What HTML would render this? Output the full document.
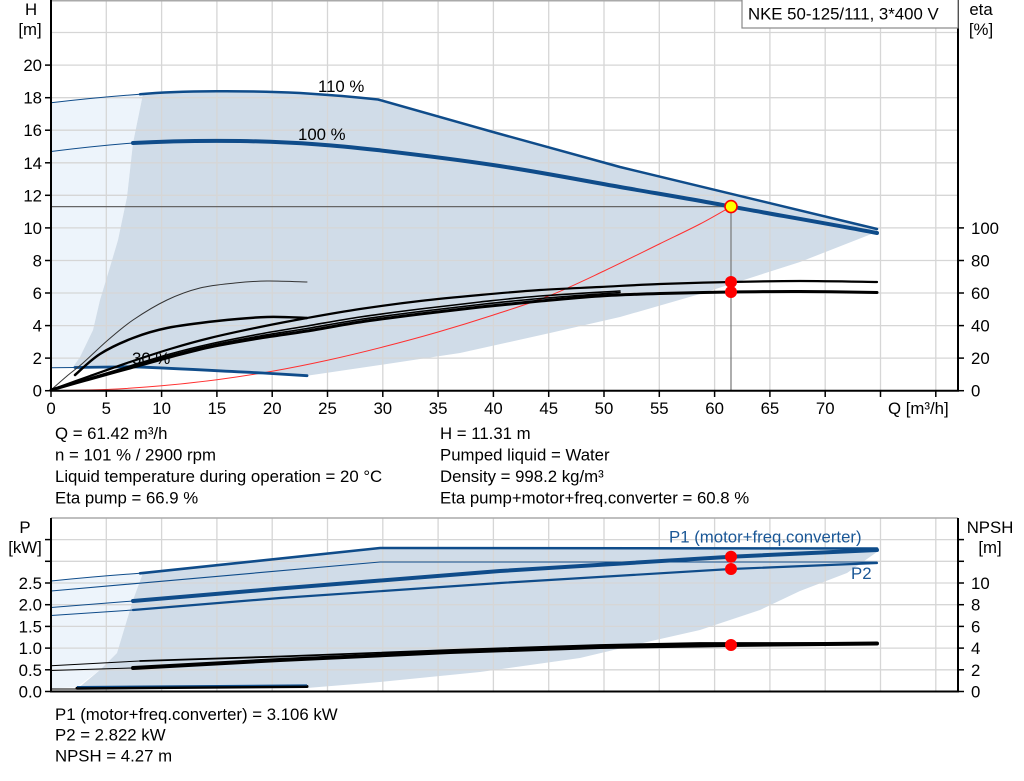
<!DOCTYPE html>
<html><head><meta charset="utf-8"><style>
html,body{margin:0;padding:0;background:#fff;}
svg{display:block;font-family:"Liberation Sans",Arial,sans-serif;}
</style></head><body>
<svg width="1024" height="781" viewBox="0 0 1024 781" xmlns="http://www.w3.org/2000/svg">
<rect width="1024" height="781" fill="#fff"/>

<!-- ===== TOP CHART ===== -->
<path d="M51,102.7 Q100,97 143,94 L133,143 L127,197 L118,240 L110,267 L100,300 L93,330 L80,357 L73,367 L51,367.7 Z" fill="#edf4fb"/>
<path d="M143,94 C180,90.5 250,90.5 300,93 C340,95.5 360,97.5 378,99.5 L493,132 L620,167 L877,229 L877,233 L874,233 L800,262 L700,294 L620,317 L550,333 L460,353 L380,365 L307,375.7 L263,373 L200,370 L130,366.7 L73,367 L80,357 L93,330 L100,300 L110,267 L118,240 L127,197 L133,143 Z" fill="#d0dce8"/>

<g stroke="#d6d6d6" stroke-width="1.3">
<line x1="106.3" y1="0" x2="106.3" y2="390"/><line x1="161.6" y1="0" x2="161.6" y2="390"/><line x1="216.9" y1="0" x2="216.9" y2="390"/><line x1="272.2" y1="0" x2="272.2" y2="390"/><line x1="327.5" y1="0" x2="327.5" y2="390"/><line x1="382.8" y1="0" x2="382.8" y2="390"/><line x1="438.1" y1="0" x2="438.1" y2="390"/><line x1="493.4" y1="0" x2="493.4" y2="390"/><line x1="548.7" y1="0" x2="548.7" y2="390"/><line x1="604" y1="0" x2="604" y2="390"/><line x1="659.3" y1="0" x2="659.3" y2="390"/><line x1="714.6" y1="0" x2="714.6" y2="390"/><line x1="769.9" y1="0" x2="769.9" y2="390"/><line x1="825.2" y1="0" x2="825.2" y2="390"/><line x1="880.5" y1="0" x2="880.5" y2="390"/><line x1="935.8" y1="0" x2="935.8" y2="390"/>
<line x1="51" y1="358.1" x2="958" y2="358.1"/><line x1="51" y1="325.6" x2="958" y2="325.6"/><line x1="51" y1="293" x2="958" y2="293"/><line x1="51" y1="260.5" x2="958" y2="260.5"/><line x1="51" y1="227.9" x2="958" y2="227.9"/><line x1="51" y1="195.3" x2="958" y2="195.3"/><line x1="51" y1="162.8" x2="958" y2="162.8"/><line x1="51" y1="130.2" x2="958" y2="130.2"/><line x1="51" y1="97.7" x2="958" y2="97.7"/><line x1="51" y1="65.1" x2="958" y2="65.1"/><line x1="51" y1="32.5" x2="958" y2="32.5"/>
</g>
<line x1="51" y1="0.8" x2="958" y2="0.8" stroke="#aaa" stroke-width="1.5"/>

<!-- system curve -->
<path id="sys" d="M51,390.7 L106.3,389.5 L161.6,385.8 L216.9,379.7 L272.2,371.2 L327.5,360.2 L382.8,347 L438.1,332 L493.4,315 L548.7,296 L604,271 L659.3,244 L700,224 L731,206.6" fill="none" stroke="#ff3030" stroke-width="1"/>

<line x1="51" y1="206.6" x2="731" y2="206.6" stroke="#666" stroke-width="1.2"/>
<line x1="731" y1="206.6" x2="731" y2="390" stroke="#777" stroke-width="1.2"/>

<!-- H curves -->
<g fill="none" stroke="#0f4c8a" stroke-linecap="round" stroke-linejoin="round">
<path d="M51,102.7 Q100,97 143,94" stroke-width="1"/>
<path d="M140,94.3 C180,90.5 250,90.5 300,93 C340,95.5 360,97.5 378,99.5 L493,132 L620,167 L877,229" stroke-width="2.5"/>
<path d="M51,151.5 Q95,146 133,143" stroke-width="1"/>
<path d="M133,143 C170,141 200,140.5 240,141 C300,142 340,146 377,150 C420,155 460,160 493,165 C540,172 580,180 620,187 C660,194 700,200.5 731,206.6 C780,215.5 830,224 877,233" stroke-width="4"/>
<path d="M51,367.7 L75,367.5" stroke-width="1"/>
<path d="M75,367.5 L130,366.7 C170,368 200,370 263,373 L307,375.7" stroke-width="2.8"/>
</g>

<!-- eta curves -->
<g fill="none" stroke="#000" stroke-linecap="round" stroke-linejoin="round">
<path id="eA" d="M51,390 L67,376 L83,363 L108,340 L133,320 L167,300 L200,288 L235,283 L267,281 L307,282" stroke="#333" stroke-width="1"/>
<path id="eB" d="M75,375 L100,354 L133,338 L167,328 L217,321 L267,317 L307,318" stroke-width="2.5"/>
<path id="eC" d="M51,390 L90,376 L130,362 L170,349 L210,338 L260,327 L307,318 L360,309 L420,301 L480,295 L540,290 L600,287 L660,284 L731,282 L800,281 L877,282" stroke-width="2.2"/>
<path id="eD" d="M51,390 L90,378 L130,366 L170,354 L210,344 L260,334 L307,326 L360,317 L420,309 L480,302 L540,296 L620,291" stroke-width="1.6"/>
<path id="eE" d="M51,390 L90,378.5 L130,367 L170,355.5 L210,345.5 L260,336 L307,328.5 L360,319.5 L420,311.5 L480,304.5 L540,298.5 L620,292.5" stroke-width="1.6"/>
<path id="eF" d="M51,390 L90,379 L130,368 L170,357 L210,347 L260,338 L307,331 L360,322 L420,314 L480,307 L540,301 L600,296 L660,293.5 L731,292 L800,291.5 L877,292.5" stroke-width="3"/>
</g>

<circle cx="731" cy="206.6" r="6" fill="#ffff00" stroke="#ff0000" stroke-width="1.6"/>
<circle cx="731" cy="282" r="6" fill="#ff0000"/>
<circle cx="731" cy="292" r="6" fill="#ff0000"/>

<g font-size="16.8" fill="#000">
<text x="318" y="92">110 %</text>
<text x="298" y="140">100 %</text>
<text x="132" y="364">30 %</text>
</g>

<g stroke="#000" stroke-width="2">
<line x1="51" y1="0" x2="51" y2="391.5"/>
<line x1="958" y1="0" x2="958" y2="391.5"/>
<line x1="50" y1="390.7" x2="959" y2="390.7"/>
</g>
<g stroke="#000" stroke-width="1.5">
<line x1="45" y1="390.7" x2="51" y2="390.7"/><line x1="45" y1="358.1" x2="51" y2="358.1"/><line x1="45" y1="325.6" x2="51" y2="325.6"/><line x1="45" y1="293" x2="51" y2="293"/><line x1="45" y1="260.5" x2="51" y2="260.5"/><line x1="45" y1="227.9" x2="51" y2="227.9"/><line x1="45" y1="195.3" x2="51" y2="195.3"/><line x1="45" y1="162.8" x2="51" y2="162.8"/><line x1="45" y1="130.2" x2="51" y2="130.2"/><line x1="45" y1="97.7" x2="51" y2="97.7"/><line x1="45" y1="65.1" x2="51" y2="65.1"/>
<line x1="958" y1="390.7" x2="964" y2="390.7"/><line x1="958" y1="358.1" x2="964" y2="358.1"/><line x1="958" y1="325.6" x2="964" y2="325.6"/><line x1="958" y1="293" x2="964" y2="293"/><line x1="958" y1="260.5" x2="964" y2="260.5"/><line x1="958" y1="227.9" x2="964" y2="227.9"/>
<line x1="51" y1="390.7" x2="51" y2="397"/><line x1="106.3" y1="390.7" x2="106.3" y2="397"/><line x1="161.6" y1="390.7" x2="161.6" y2="397"/><line x1="216.9" y1="390.7" x2="216.9" y2="397"/><line x1="272.2" y1="390.7" x2="272.2" y2="397"/><line x1="327.5" y1="390.7" x2="327.5" y2="397"/><line x1="382.8" y1="390.7" x2="382.8" y2="397"/><line x1="438.1" y1="390.7" x2="438.1" y2="397"/><line x1="493.4" y1="390.7" x2="493.4" y2="397"/><line x1="548.7" y1="390.7" x2="548.7" y2="397"/><line x1="604" y1="390.7" x2="604" y2="397"/><line x1="659.3" y1="390.7" x2="659.3" y2="397"/><line x1="714.6" y1="390.7" x2="714.6" y2="397"/><line x1="769.9" y1="390.7" x2="769.9" y2="397"/><line x1="825.2" y1="390.7" x2="825.2" y2="397"/><line x1="880.5" y1="390.7" x2="880.5" y2="397"/><line x1="935.8" y1="390.7" x2="935.8" y2="397"/>
</g>

<g font-size="16.8" fill="#000">
<g text-anchor="end">
<text x="42" y="396.7">0</text><text x="42" y="364.1">2</text><text x="42" y="331.6">4</text><text x="42" y="299">6</text><text x="42" y="266.5">8</text><text x="42" y="233.9">10</text><text x="42" y="201.3">12</text><text x="42" y="168.8">14</text><text x="42" y="136.2">16</text><text x="42" y="103.7">18</text><text x="42" y="71.1">20</text>
</g>
<g text-anchor="start">
<text x="971" y="396.7">0</text><text x="971" y="364.1">20</text><text x="971" y="331.6">40</text><text x="971" y="299">60</text><text x="971" y="266.5">80</text><text x="971" y="233.9">100</text>
</g>
<g text-anchor="middle">
<text x="51" y="414">0</text><text x="106.3" y="414">5</text><text x="161.6" y="414">10</text><text x="216.9" y="414">15</text><text x="272.2" y="414">20</text><text x="327.5" y="414">25</text><text x="382.8" y="414">30</text><text x="438.1" y="414">35</text><text x="493.4" y="414">40</text><text x="548.7" y="414">45</text><text x="604" y="414">50</text><text x="659.3" y="414">55</text><text x="714.6" y="414">60</text><text x="769.9" y="414">65</text><text x="825.2" y="414">70</text>
<text x="31" y="15">H</text><text x="30" y="35">[m]</text>
<text x="981" y="15">eta</text><text x="981" y="35">[%]</text>
</g>
<text x="888" y="414">Q [m³/h]</text>
</g>

<rect x="742" y="-1" width="216" height="29" fill="#fff" stroke="#888" stroke-width="1.2"/>
<text x="748" y="19.5" font-size="16.8" fill="#000">NKE 50-125/111, 3*400 V</text>

<g font-size="16.8" fill="#000">
<text x="55" y="439">Q = 61.42 m³/h</text>
<text x="55" y="460.5">n = 101 % / 2900 rpm</text>
<text x="55" y="482">Liquid temperature during operation = 20 °C</text>
<text x="55" y="503.5">Eta pump = 66.9 %</text>
<text x="440" y="439">H = 11.31 m</text>
<text x="440" y="460.5">Pumped liquid = Water</text>
<text x="440" y="482">Density = 998.2 kg/m³</text>
<text x="440" y="503.5">Eta pump+motor+freq.converter = 60.8 %</text>
</g>

<!-- ===== BOTTOM CHART ===== -->
<path d="M51,581 Q100,576 143,573 L133,600 L117,653 L100,670 L77,687 L51,688.5 Z" fill="#edf4fb"/>
<path d="M143,573 L380,548 L877,548.5 L877,552 L847,573 L800,591 L760,610 L700,630 L647,642 L580,658 L480,672 L380,682 L307,688 L77,689 L100,670 L117,653 L133,600 Z" fill="#d0dce8"/>

<g stroke="#d6d6d6" stroke-width="1.3">
<line x1="106.3" y1="518" x2="106.3" y2="691"/><line x1="161.6" y1="518" x2="161.6" y2="691"/><line x1="216.9" y1="518" x2="216.9" y2="691"/><line x1="272.2" y1="518" x2="272.2" y2="691"/><line x1="327.5" y1="518" x2="327.5" y2="691"/><line x1="382.8" y1="518" x2="382.8" y2="691"/><line x1="438.1" y1="518" x2="438.1" y2="691"/><line x1="493.4" y1="518" x2="493.4" y2="691"/><line x1="548.7" y1="518" x2="548.7" y2="691"/><line x1="604" y1="518" x2="604" y2="691"/><line x1="659.3" y1="518" x2="659.3" y2="691"/><line x1="714.6" y1="518" x2="714.6" y2="691"/><line x1="769.9" y1="518" x2="769.9" y2="691"/><line x1="825.2" y1="518" x2="825.2" y2="691"/><line x1="880.5" y1="518" x2="880.5" y2="691"/><line x1="935.8" y1="518" x2="935.8" y2="691"/>
<line x1="51" y1="669.8" x2="958" y2="669.8"/><line x1="51" y1="648.1" x2="958" y2="648.1"/><line x1="51" y1="626.4" x2="958" y2="626.4"/><line x1="51" y1="604.7" x2="958" y2="604.7"/><line x1="51" y1="583" x2="958" y2="583"/><line x1="51" y1="561.3" x2="958" y2="561.3"/><line x1="51" y1="539.6" x2="958" y2="539.6"/>
</g>
<line x1="51" y1="518" x2="958" y2="518" stroke="#aaa" stroke-width="1.5"/>

<g fill="none" stroke="#0f4c8a" stroke-linecap="round" stroke-linejoin="round">
<path d="M51,581 Q100,576 140,573.3" stroke-width="1"/>
<path d="M140,573.3 L380,548 L877,548.5" stroke-width="2.6"/>
<path d="M51,591 L380,562 L877,562" stroke-width="1.1"/>
<path d="M51,607.5 L133,601" stroke-width="1"/>
<path d="M133,601 L280,588.5 L500,571 L731,556.7 L877,550" stroke-width="4"/>
<path d="M51,615.5 L133,610" stroke-width="1"/>
<path d="M133,610 L280,598 L500,583 L731,569 L877,563" stroke-width="2.2"/>
</g>
<g fill="none" stroke="#000" stroke-linecap="round" stroke-linejoin="round">
<path d="M51,665.7 L140,661" stroke-width="1"/>
<path d="M140,661 L280,656.5 L450,650 L600,645 L700,643 L877,643" stroke-width="1.8"/>
<path d="M51,670.5 L133,668" stroke-width="1"/>
<path d="M133,668 L280,660 L450,652 L600,647 L731,645 L877,643.5" stroke-width="4"/>
<path d="M51,689 L77,689" stroke-width="1"/>
<path d="M77,688.3 L307,686.5" stroke-width="3"/>
</g>
<path d="M77,686.6 L307,685" stroke="#0f4c8a" stroke-width="1.3" fill="none"/>

<circle cx="731" cy="556.7" r="6" fill="#ff0000"/>
<circle cx="731" cy="569" r="6" fill="#ff0000"/>
<circle cx="731" cy="645" r="6" fill="#ff0000"/>

<g font-size="16.8" fill="#1a5796">
<text x="669" y="542.5">P1 (motor+freq.converter)</text>
<text x="851" y="579">P2</text>
</g>

<g stroke="#000" stroke-width="2">
<line x1="51" y1="518" x2="51" y2="692.5"/>
<line x1="958" y1="518" x2="958" y2="692.5"/>
<line x1="50" y1="691.5" x2="959" y2="691.5"/>
</g>
<g stroke="#000" stroke-width="1.5">
<line x1="45" y1="691.5" x2="51" y2="691.5"/><line x1="45" y1="669.8" x2="51" y2="669.8"/><line x1="45" y1="648.1" x2="51" y2="648.1"/><line x1="45" y1="626.4" x2="51" y2="626.4"/><line x1="45" y1="604.7" x2="51" y2="604.7"/><line x1="45" y1="583" x2="51" y2="583"/><line x1="45" y1="561.3" x2="51" y2="561.3"/><line x1="45" y1="539.6" x2="51" y2="539.6"/>
<line x1="958" y1="691.5" x2="964" y2="691.5"/><line x1="958" y1="669.8" x2="964" y2="669.8"/><line x1="958" y1="648.1" x2="964" y2="648.1"/><line x1="958" y1="626.4" x2="964" y2="626.4"/><line x1="958" y1="604.7" x2="964" y2="604.7"/><line x1="958" y1="583" x2="964" y2="583"/><line x1="958" y1="561.3" x2="964" y2="561.3"/><line x1="958" y1="539.6" x2="964" y2="539.6"/>
</g>

<g font-size="16.8" fill="#000">
<g text-anchor="end">
<text x="42" y="697.5">0.0</text><text x="42" y="675.8">0.5</text><text x="42" y="654.1">1.0</text><text x="42" y="632.4">1.5</text><text x="42" y="610.7">2.0</text><text x="42" y="589">2.5</text>
</g>
<g text-anchor="start">
<text x="971" y="697.5">0</text><text x="971" y="675.8">2</text><text x="971" y="654.1">4</text><text x="971" y="632.4">6</text><text x="971" y="610.7">8</text><text x="971" y="589">10</text>
</g>
<g text-anchor="middle">
<text x="25" y="533">P</text><text x="25" y="553">[kW]</text>
<text x="990" y="533">NPSH</text><text x="990" y="553">[m]</text>
</g>
<text x="55" y="720">P1 (motor+freq.converter) = 3.106 kW</text>
<text x="55" y="740.5">P2 = 2.822 kW</text>
<text x="55" y="761.5">NPSH = 4.27 m</text>
</g>
</svg>
<script>
(function(){
  var ids=["sys","eA","eB","eC","eD","eE","eF"];
  ids.forEach(function(id){
    var el=document.getElementById(id); if(!el) return;
    var d=el.getAttribute("d");
    var nums=d.replace(/[ML]/g," ").trim().split(/[\s,]+/).map(Number);
    var p=[]; for(var i=0;i+1<nums.length;i+=2) p.push([nums[i],nums[i+1]]);
    if(p.length<3) return;
    var s="M"+p[0][0]+","+p[0][1];
    for(var i=0;i<p.length-1;i++){
      var p0=p[i-1]||p[i], p1=p[i], p2=p[i+1], p3=p[i+2]||p2;
      var c1x=p1[0]+(p2[0]-p0[0])/6, c1y=p1[1]+(p2[1]-p0[1])/6;
      var c2x=p2[0]-(p3[0]-p1[0])/6, c2y=p2[1]-(p3[1]-p1[1])/6;
      s+=" C"+c1x.toFixed(2)+","+c1y.toFixed(2)+" "+c2x.toFixed(2)+","+c2y.toFixed(2)+" "+p2[0]+","+p2[1];
    }
    el.setAttribute("d",s);
  });
})();
</script>
</body></html>
